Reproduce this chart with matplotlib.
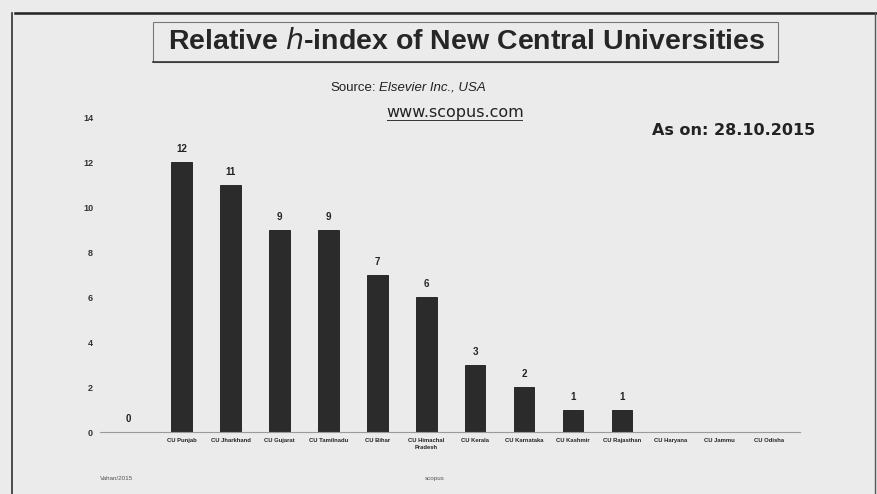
import numpy as np
import matplotlib
matplotlib.use("Agg")
import matplotlib.pyplot as plt
from matplotlib.lines import Line2D
from matplotlib.patches import Rectangle

plt.rcParams['font.family'] = ['Liberation Sans', 'DejaVu Sans']

categories = ["", "CU Punjab", "CU Jharkhand", "CU Gujarat", "CU Tamilnadu", "CU Bihar",
              "CU Himachal\nPradesh", "CU Kerala", "CU Karnataka", "CU Kashmir",
              "CU Rajasthan", "CU Haryana", "CU Jammu", "CU Odisha"]
values = [0, 12, 11, 9, 9, 7, 6, 3, 2, 1, 1, np.nan, np.nan, np.nan]
yticks = [0, 2, 4, 6, 8, 10, 12, 14]

W, H = 877, 494
fig = plt.figure(figsize=(W / 100, H / 100), dpi=100, facecolor='#ebebeb')

ax = fig.add_axes([100 / W, (H - 432) / H, 700 / W, (432 - 117) / H])
ax.set_facecolor('#ebebeb')
x = np.arange(len(categories))
vals = np.array(values, dtype=float)
ax.bar(x, np.nan_to_num(vals), width=0.42, color='#2b2b2b', edgecolor='#1a1a1a', linewidth=0.6)
for xi, v in zip(x, vals):
    if not np.isnan(v):
        ax.text(xi - (0.1 if v == 0 else 0), v + 0.35, f"{int(v)}", ha='center', va='bottom',
                fontsize=7, color='#222222', fontweight='bold')

ax.set_xlim(-0.67, 13.64)
ax.set_ylim(0, 14)
ax.set_yticks(yticks)
ax.set_yticklabels([str(t) for t in yticks], fontsize=6.5, color='#333333', fontweight='bold')
ax.set_xticks(x)
ax.set_xticklabels(categories, fontsize=4.2, color='#222222', fontweight='bold', linespacing=1.5)
ax.tick_params(axis='y', length=0, pad=5)
ax.tick_params(axis='x', length=0, pad=4)
for s in ['top', 'right', 'left']:
    ax.spines[s].set_visible(False)
ax.spines['bottom'].set_color('#9a9a9a')
ax.spines['bottom'].set_linewidth(0.8)

# Frame of the scanned page
fig.add_artist(Line2D([15 / W, 1.0], [(H - 13) / H] * 2, color='#222222', lw=1.8))
fig.add_artist(Line2D([12 / W] * 2, [0, (H - 13) / H], color='#333333', lw=1.2))
fig.add_artist(Line2D([875 / W] * 2, [0, (H - 13) / H], color='#555555', lw=1.0))

# Title box
fig.add_artist(Rectangle((153 / W, (H - 62) / H), 625 / W, 40 / H, fill=False,
                         edgecolor='#777777', lw=0.8))
fig.add_artist(Line2D([153 / W, 778 / W], [(H - 62) / H] * 2, color='#333333', lw=1.2))
fig.text(467 / W, (H - 42) / H, "Relative $\\mathbf{\\mathit{h}}$-index of New Central Universities",
         ha='center', va='center', fontsize=20.5, color='#262626', fontweight='bold')

fig.text(376 / W, (H - 88) / H, "Source:", ha='right', va='center', fontsize=9.5, color='#222222')
fig.text(379 / W, (H - 88) / H, "Elsevier Inc., USA", ha='left', va='center', fontsize=9.5,
         color='#222222', fontstyle='italic')
fig.text(455 / W, (H - 112) / H, "www.scopus.com", ha='center', va='center',
         fontsize=11.5, color='#222222', family='DejaVu Sans')
fig.add_artist(Line2D([387 / W, 522 / W], [(H - 120) / H] * 2, color='#333333', lw=0.7))
fig.text(652 / W, (H - 130) / H, "As on: 28.10.2015", ha='left', va='center',
         fontsize=11.5, color='#222222', family='DejaVu Sans', fontweight='bold')

fig.text(100 / W, (H - 478) / H, "Vahan/2015", ha='left', va='center', fontsize=4.5, color='#555555')
fig.text(435 / W, (H - 478) / H, "scopus", ha='center', va='center', fontsize=4.5, color='#555555')

fig.savefig("out.png", dpi=100, facecolor=fig.get_facecolor())
